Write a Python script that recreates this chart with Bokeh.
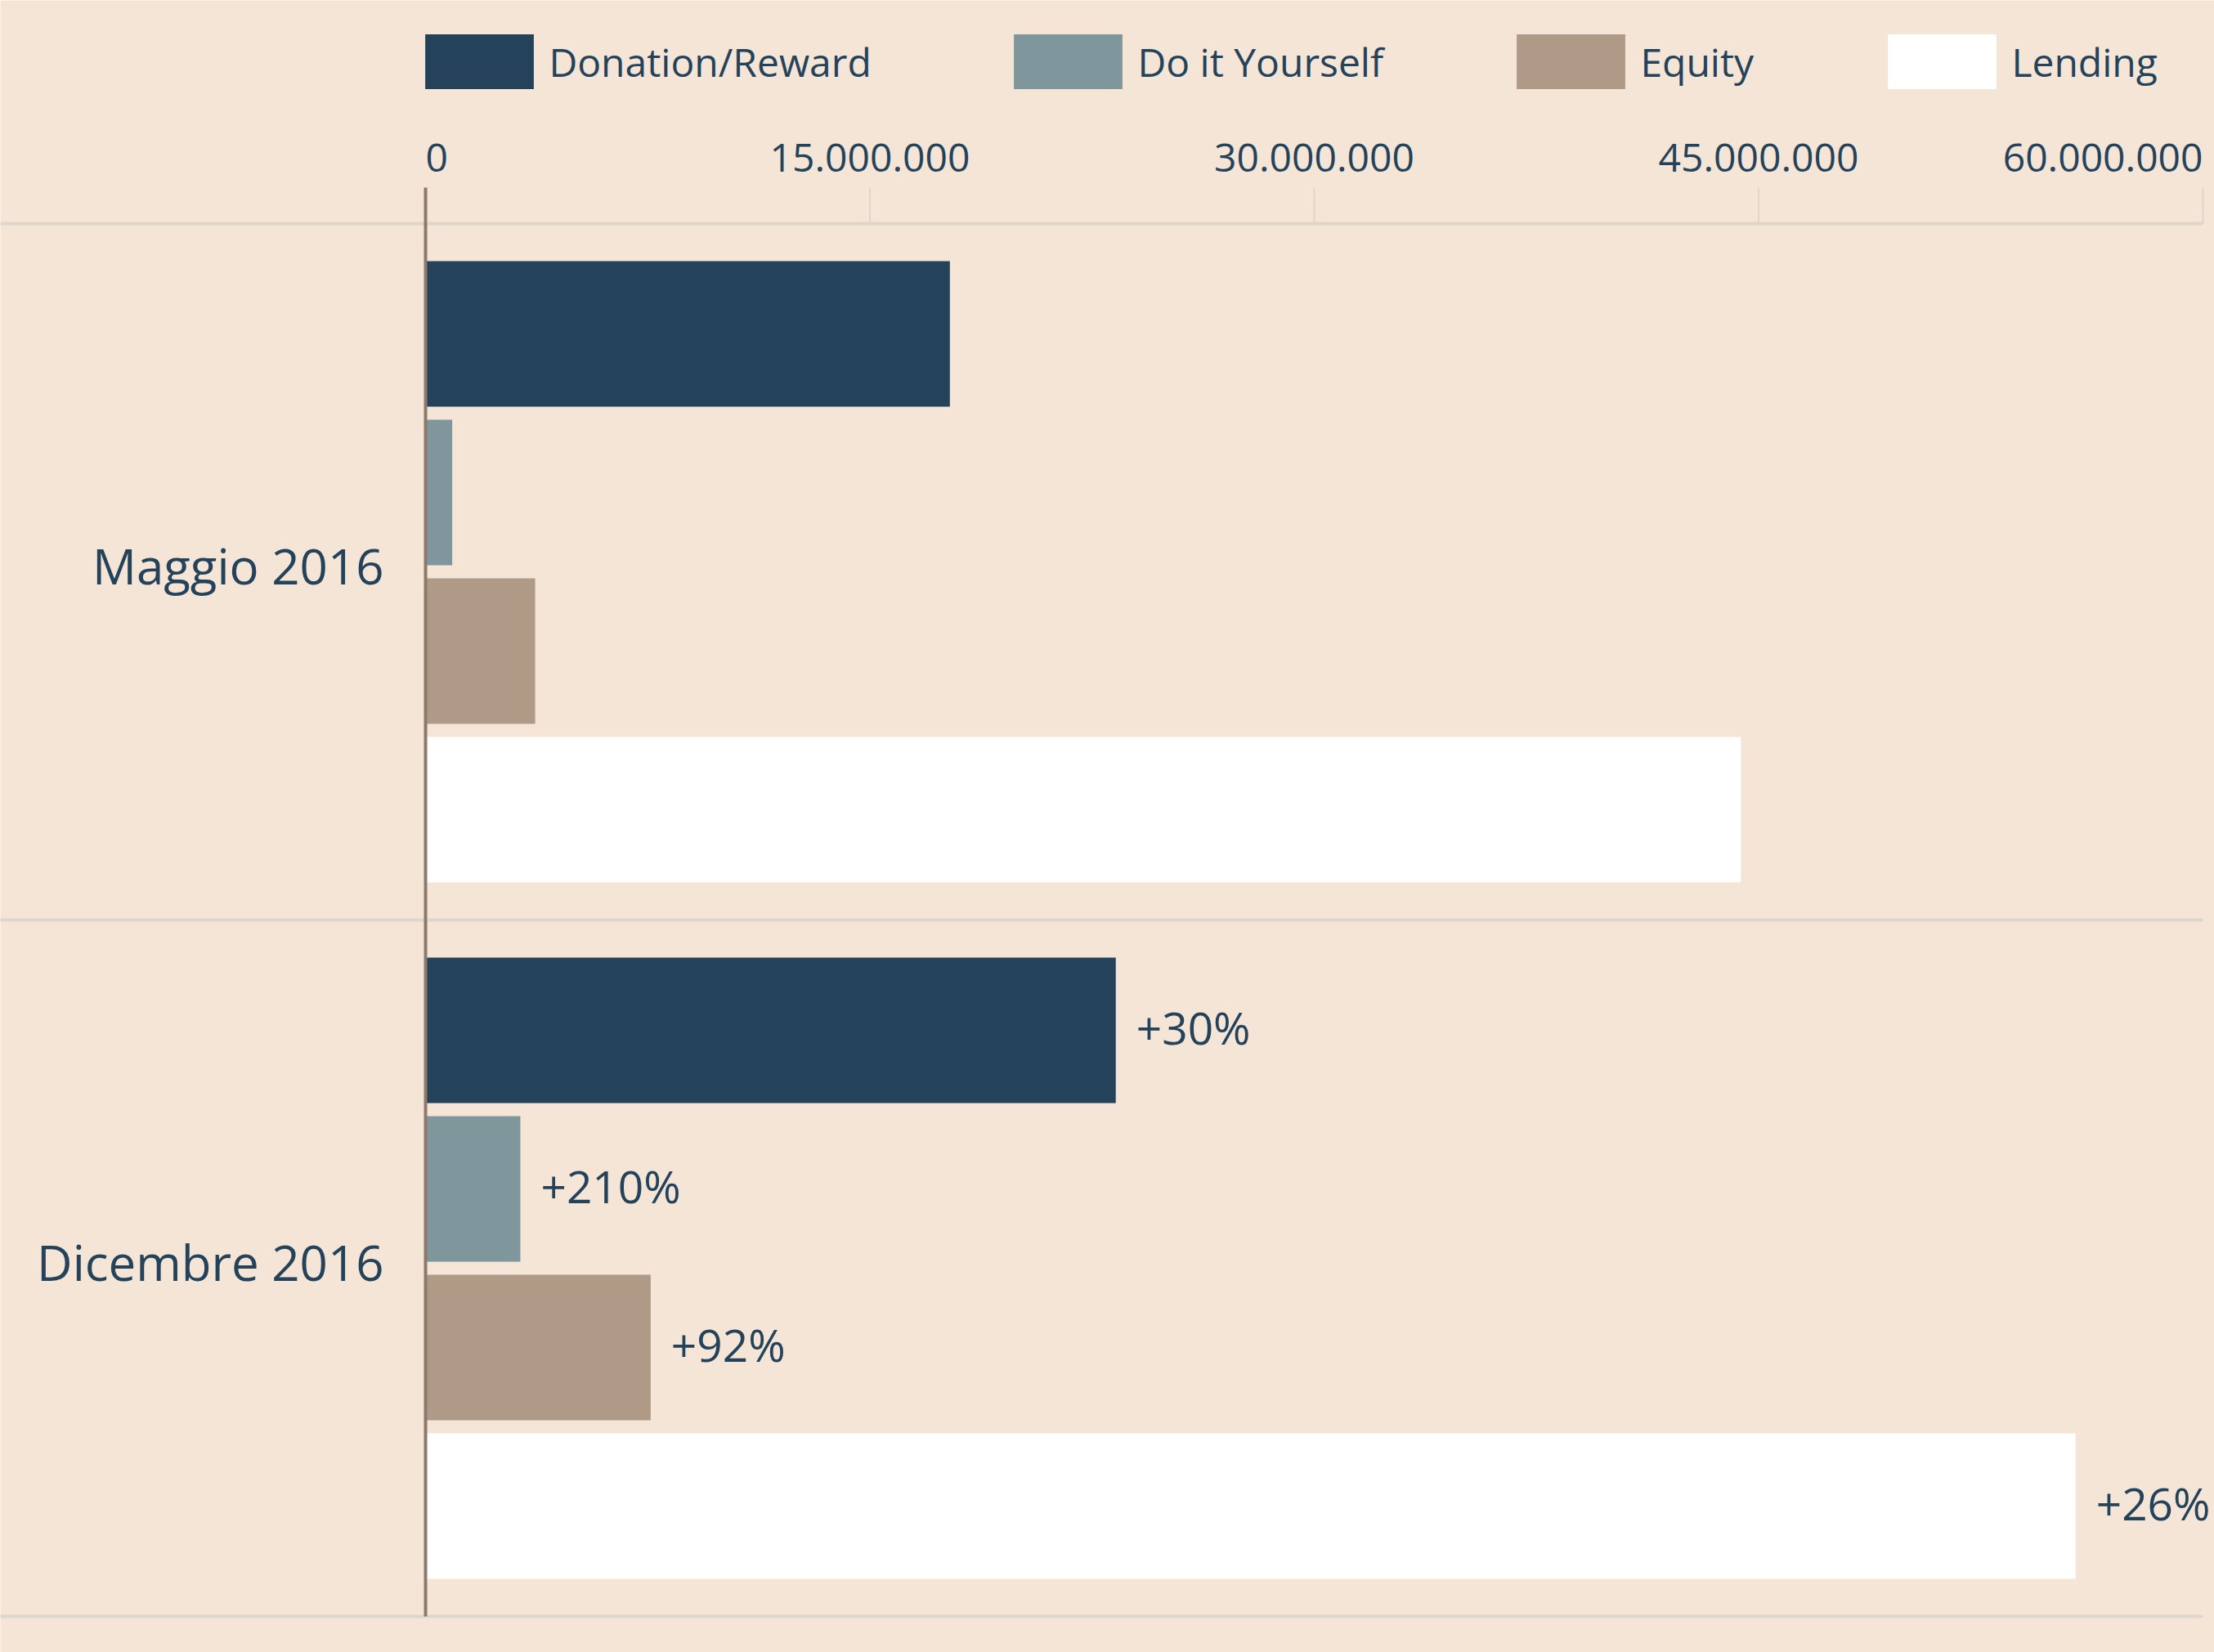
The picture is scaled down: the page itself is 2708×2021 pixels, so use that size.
from bokeh.plotting import figure
from bokeh.models import Range1d, Legend, LegendItem, ColumnDataSource
from bokeh.core.properties import value
from bokeh.embed import file_html
from bokeh.resources import INLINE

# ---------------- data ----------------
PERIODS = ["Maggio 2016", "Dicembre 2016"]
SERIES = ["Donation/Reward", "Do it Yourself", "Equity", "Lending"]
MAGGIO = [17.7e6, 0.9e6, 3.7e6, 44.4e6]
DICEMBRE = [23.3e6, 3.2e6, 7.6e6, 55.7e6]
GROWTH = ["+30%", "+210%", "+92%", "+26%"]
TICKS = [0, 15e6, 30e6, 45e6, 60e6]
TICK_LABELS = ["0", "15.000.000", "30.000.000", "45.000.000", "60.000.000"]

# ---------------- style / layout ----------------
COLORS = ["#24435a", "#7e969c", "#ae9a87", "#ffffff"]
BG = "#f5e5d6"
TEXT = "#24435a"
GRID = "#ddd6cd"
AXIS = "#8c7a6b"
FONT = "Open Sans"

W, H = 2708, 2021
PLOT_LEFT, PLOT_RIGHT = 520, 2694
GROUP_TOP, GROUP_PITCH = 273, 852
BAR_PITCH, BAR_H, FIRST_BAR = 194, 178, 135
TICK_TOP, TICK_LABEL_Y = 229, 192

scale = (PLOT_RIGHT - PLOT_LEFT) / TICKS[-1]
x_range = Range1d(-PLOT_LEFT / scale, TICKS[-1] + (W - PLOT_RIGHT) / scale)
y_range = Range1d(H, 0)

p = figure(width=W, height=H, x_range=x_range, y_range=y_range,
           output_backend="svg", toolbar_location=None,
           x_axis_location=None, y_axis_location=None, min_border=0)
p.grid.visible = False
p.outline_line_color = None
p.background_fill_color = BG
p.border_fill_color = BG

def bar_y(i, j):
    return GROUP_TOP + FIRST_BAR + i * GROUP_PITCH + j * BAR_PITCH

# separators and tick marks
n_groups = len(PERIODS)
sep_y = [GROUP_TOP + k * GROUP_PITCH for k in range(n_groups + 1)]
p.segment(x0=[x_range.start] * len(sep_y), x1=[TICKS[-1]] * len(sep_y),
          y0=sep_y, y1=sep_y, line_color=GRID, line_width=4)
p.segment(x0=TICKS[1:], x1=TICKS[1:], y0=[TICK_TOP] * 4, y1=[GROUP_TOP] * 4,
          line_color=GRID, line_width=2)

# bars
renderers = []
for j, name in enumerate(SERIES):
    src = ColumnDataSource(dict(
        y=[bar_y(i, j) for i in range(n_groups)],
        right=[MAGGIO[j], DICEMBRE[j]],
    ))
    r = p.hbar(y="y", left=0, right="right", height=BAR_H, source=src,
               fill_color=COLORS[j], line_color=None)
    renderers.append(r)

# zero axis line
p.segment(x0=[0], x1=[0], y0=[TICK_TOP], y1=[sep_y[-1]], line_color=AXIS, line_width=4)

# tick labels
tick_src = ColumnDataSource(dict(
    x=TICKS, y=[TICK_LABEL_Y] * len(TICKS), t=TICK_LABELS,
    a=["left", "center", "center", "center", "right"]))
p.text(x="x", y="y", text="t", text_align="a", text_baseline="alphabetic",
       source=tick_src, text_font=value(FONT), text_font_size="48px", text_color=TEXT)

# category labels
cat_src = ColumnDataSource(dict(
    x=[0] * n_groups, y=[bar_y(i, 1.5) for i in range(n_groups)], t=PERIODS))
p.text(x="x", y="y", text="t", source=cat_src, x_offset=-51, y_offset=-8,
       text_align="right", text_baseline="alphabetic",
       text_font=value(FONT), text_font_size="60px", text_color=TEXT)

# growth labels
gr_src = ColumnDataSource(dict(
    x=DICEMBRE, y=[bar_y(1, j) for j in range(len(SERIES))], t=GROWTH))
p.text(x="x", y="y", text="t", source=gr_src, x_offset=25, y_offset=-4,
       text_align="left", text_baseline="alphabetic",
       text_font=value(FONT), text_font_size="55px", text_color=TEXT)

# legends (one per item so that each sits where the original has it)
LEG_X = [520, 1240, 1855, 2309]
GW, GHt = 166, 84
for j, name in enumerate(SERIES):
    leg = Legend(items=[LegendItem(label=name, renderers=[renderers[j]])],
                 location=(LEG_X[j] - GW * 0.1, H - 117),
                 orientation="horizontal", padding=0, margin=0, spacing=0,
                 glyph_width=GW, glyph_height=GHt, label_standoff=2,
                 label_text_font=FONT, label_text_font_size="48px",
                 label_text_color=TEXT, border_line_color=None,
                 background_fill_alpha=0)
    p.add_layout(leg)

open("out.html", "w").write(file_html(p, INLINE))
